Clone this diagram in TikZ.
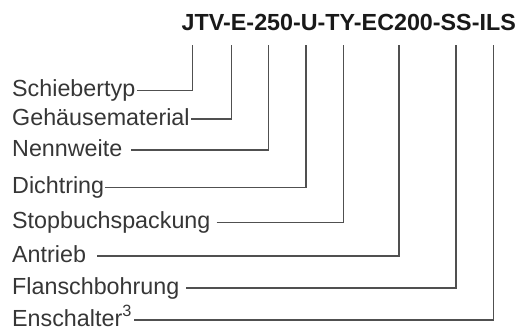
\documentclass[tikz,border=0pt]{standalone}
\usepackage{fontspec}
\setmainfont{Liberation Sans}
\definecolor{txt}{HTML}{363636}
\definecolor{linec}{HTML}{505050}
\begin{document}
\begin{tikzpicture}[x=1pt,y=-1pt,
  lab/.style={anchor=west, inner sep=0pt, text height=16pt, text depth=4pt,
    font=\fontsize{23.3}{26}\selectfont, text=txt},
  conn/.style={draw=linec, line width=1.1pt}]
\useasboundingbox (0,0) rectangle (521,332);
\node[anchor=base east, inner sep=0pt, font=\fontsize{23.3}{26}\selectfont\bfseries, text=black!90] (title) at (516,30) {JTV-E-250-U-TY-EC200-SS-ILS};
\node[lab] (l1) at (12,90.5) {Schiebertyp};
\node[lab] (l2) at (12,119) {Gehäusematerial};
\node[lab] (l3) at (12,150) {Nennweite};
\node[lab] (l4) at (12,187.3) {Dichtring};
\node[lab] (l5) at (12,222.5) {Stopbuchspackung};
\node[lab] (l6) at (12,256) {Antrieb};
\node[lab] (l7) at (12,288) {Flanschbohrung};
\node[lab] (l8) at (12,320) {Enschalter\textsuperscript{3}};
\coordinate (t1) at (192.5,45);
\coordinate (t2) at (231.7,45);
\coordinate (t3) at (268.5,45);
\coordinate (t4) at (306,45);
\coordinate (t5) at (343.5,45);
\coordinate (t6) at (399,45);
\coordinate (t7) at (456,45);
\coordinate (t8) at (493.3,45);
\draw[conn] ([xshift=2pt]l1.east) -| (t1);
\draw[conn] ([xshift=1.5pt]l2.east) -| (t2);
\draw[conn] ([xshift=9pt]l3.east) -| (t3);
\draw[conn] ([xshift=0.5pt]l4.east) -| (t4);
\draw[conn] ([xshift=6pt]l5.east) -| (t5);
\draw[conn] ([xshift=11pt]l6.east) -| (t6);
\draw[conn] ([xshift=7pt]l7.east) -| (t7);
\draw[conn] ([xshift=2pt]l8.east) -| (t8);
\end{tikzpicture}
\end{document}
